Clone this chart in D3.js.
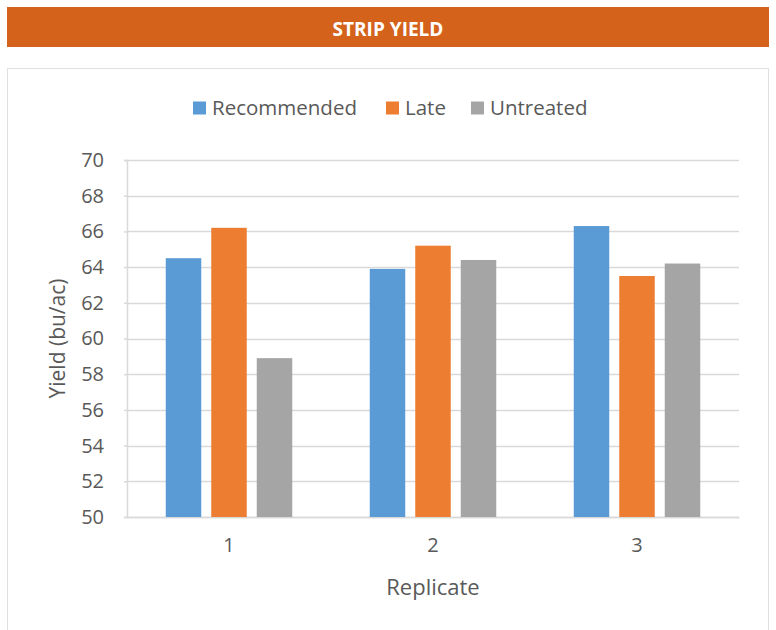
<!DOCTYPE html>
<html>
<head>
<meta charset="utf-8">
<script src="https://cdn.jsdelivr.net/npm/d3@7"></script>
<style>
  html, body { margin: 0; padding: 0; background: #fff; }
  svg { display: block; font-family: "Open Sans", "Liberation Sans", sans-serif; }
</style>
</head>
<body>
<svg id="chart" width="776" height="630"></svg>
<script>
// Strip trial yield by replicate and fungicide timing
const replicates = ["1", "2", "3"];
const seriesNames = ["Recommended", "Late", "Untreated"];
const recommended = [64.5, 63.9, 66.3];
const late = [66.2, 65.2, 63.5];
const untreated = [58.9, 64.4, 64.2];
const yTicks = [50, 52, 54, 56, 58, 60, 62, 64, 66, 68, 70];

const seriesValues = [recommended, late, untreated];
const colors = ["#5b9bd5", "#ed7d31", "#a5a5a5"];

const svg = d3.select("#chart");

// Header banner
svg.append("rect").attr("x", 7).attr("y", 7).attr("width", 762).attr("height", 40)
  .attr("fill", "#d4621a");
svg.append("text").attr("x", 388).attr("y", 29.5).attr("dy", "0.36em")
  .attr("text-anchor", "middle").attr("fill", "#fff")
  .attr("font-size", 19).attr("font-weight", "bold")
  .text("STRIP YIELD");

// Chart panel
svg.append("rect").attr("x", 7.5).attr("y", 68.5).attr("width", 761).attr("height", 580)
  .attr("fill", "#fff").attr("stroke", "#e0e0e0").attr("stroke-width", 1);

const plot = { left: 127, right: 739, top: 160, bottom: 517 };

const x0 = d3.scaleBand().domain(replicates).range([plot.left, plot.right]).paddingInner(0).paddingOuter(0);
const y = d3.scaleLinear().domain([50, 70]).range([plot.bottom, plot.top]);

// Bars inside each group: width ~35.5px with 10px gaps
const barW = 35.5, gap = 10;
const x1 = d3.scaleOrdinal().domain(seriesNames)
  .range(seriesNames.map((_, i) => (i - 1) * (barW + gap) - barW / 2));

// Gridlines
svg.append("g").selectAll("line").data(yTicks).join("line")
  .attr("x1", plot.left).attr("x2", plot.right)
  .attr("y1", d => Math.round(y(d)) + 0.5).attr("y2", d => Math.round(y(d)) + 0.5)
  .attr("stroke", "#d9d9d9").attr("stroke-width", 1.5);

// Y axis
const yAxis = svg.append("g").attr("transform", `translate(${plot.left},0)`)
  .call(d3.axisLeft(y).tickValues(yTicks).tickSize(3).tickPadding(20));
yAxis.select(".domain").attr("stroke", "#d9d9d9").attr("stroke-width", 1.5);
yAxis.selectAll(".tick line").attr("stroke", "#d9d9d9").attr("stroke-width", 1.5);
yAxis.selectAll(".tick text").attr("fill", "#595959").attr("font-size", 20)
  .attr("font-family", "'Open Sans', sans-serif");

// X axis
const xAxis = svg.append("g").attr("transform", `translate(0,${plot.bottom})`)
  .call(d3.axisBottom(x0).tickSize(0).tickPadding(21));
xAxis.select(".domain").attr("stroke", "#d9d9d9").attr("stroke-width", 1.5);
xAxis.selectAll(".tick text").attr("fill", "#595959").attr("font-size", 20)
  .attr("font-family", "'Open Sans', sans-serif");

// Bars
const groups = svg.append("g").selectAll("g").data(replicates).join("g")
  .attr("transform", d => `translate(${x0(d) + x0.bandwidth() / 2},0)`);
groups.selectAll("rect")
  .data((d, i) => seriesNames.map((s, k) => ({ s, k, v: seriesValues[k][i] })))
  .join("rect")
  .attr("x", d => x1(d.s))
  .attr("width", barW)
  .attr("y", d => y(d.v))
  .attr("height", d => y(50) - y(d.v))
  .attr("fill", d => colors[d.k]);

// Axis titles
svg.append("text").attr("transform", `translate(58,${(plot.top + plot.bottom) / 2}) rotate(-90)`)
  .attr("text-anchor", "middle").attr("dy", "0.35em")
  .attr("fill", "#595959").attr("font-size", 21).text("Yield (bu/ac)");
svg.append("text").attr("x", (plot.left + plot.right) / 2).attr("y", 587).attr("dy", "0.35em")
  .attr("text-anchor", "middle").attr("fill", "#595959").attr("font-size", 22).text("Replicate");

// Legend
const legendX = [193, 386, 471];
const legend = svg.append("g").selectAll("g").data(seriesNames).join("g")
  .attr("transform", (d, i) => `translate(${legendX[i]},108)`);
legend.append("rect").attr("x", 0).attr("y", -6.5).attr("width", 13).attr("height", 13)
  .attr("fill", (d, i) => colors[i]);
legend.append("text").attr("x", 19).attr("dy", "0.35em")
  .attr("fill", "#595959").attr("font-size", 20.5).text(d => d);
</script>
</body>
</html>
